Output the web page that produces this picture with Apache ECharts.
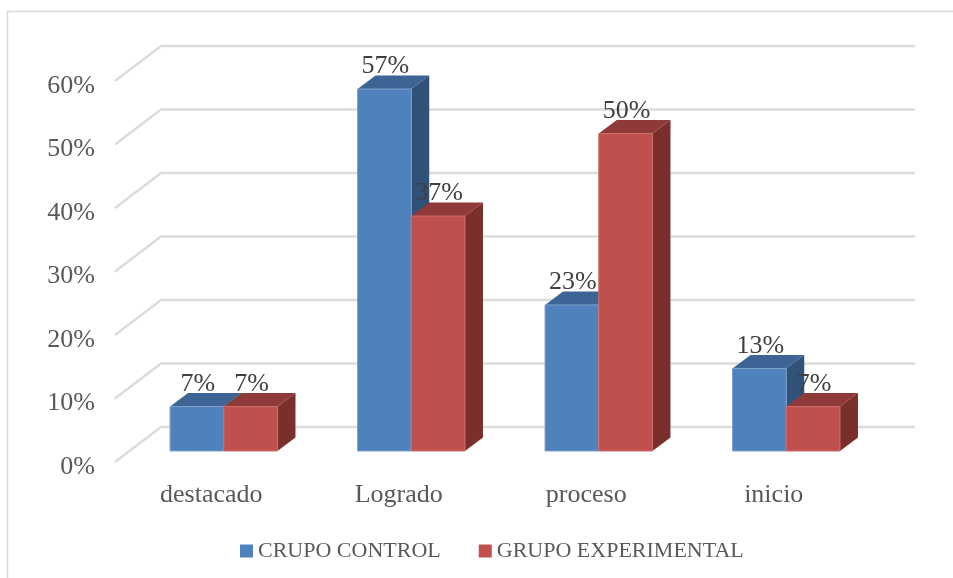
<!DOCTYPE html>
<html>
<head>
<meta charset="utf-8">
<script src="https://cdn.jsdelivr.net/npm/echarts@6/dist/echarts.min.js"></script>
<style>
  html, body { margin: 0; padding: 0; background: #fff; }
  #chart { width: 953px; height: 578px; }
</style>
</head>
<body>
<div id="chart"></div>
<script>
const categories = ["destacado", "Logrado", "proceso", "inicio"];
const control = [7, 57, 23, 13];
const experimental = [7, 37, 50, 7];
const yTicks = [0, 10, 20, 30, 40, 50, 60];

const FONT = "Liberation Serif";
const BAR_RATIO = 0.2865;
const SHIFT = [15, -11];   // bars stand a bit behind the axis plane
const DEPTH = [18, -13.5]; // bar depth
const WALL = [46, -35];    // back wall

const chart = echarts.init(document.getElementById("chart"));

function renderWall(params, api) {
  const p = api.coord([0, api.value(0)]);
  const cs = params.coordSys;
  const x0 = cs.x;
  return {
    type: "polyline",
    shape: {
      points: [
        [x0, p[1]],
        [x0 + WALL[0], p[1] + WALL[1]],
        [x0 + cs.width + 50, p[1] + WALL[1]],
      ],
    },
    style: { fill: null, stroke: "#dcdcdc", lineWidth: 2.5 },
  };
}

function barRenderer(dir, front, top, side, edge) {
  return function (params, api) {
    const v = api.value(1);
    const p = api.coord([api.value(0), v]);
    const base = api.coord([api.value(0), 0]);
    const w = api.size([1, 0])[0] * BAR_RATIO;
    const xl = p[0] + SHIFT[0] + dir * w;
    const xr = xl + w;
    const yt = p[1] + SHIFT[1];
    const yb = base[1] + SHIFT[1];
    const dx = DEPTH[0];
    const dy = DEPTH[1];
    return {
      type: "group",
      children: [
        {
          type: "polygon",
          shape: { points: [[xl, yt], [xl + dx, yt + dy], [xr + dx, yt + dy], [xr, yt]] },
          style: { fill: top },
        },
        {
          type: "polygon",
          shape: { points: [[xr, yt], [xr + dx, yt + dy], [xr + dx, yb + dy], [xr, yb]] },
          style: { fill: side },
        },
        {
          type: "rect",
          shape: { x: xl, y: yt, width: w, height: yb - yt },
          style: { fill: front, stroke: edge, lineWidth: 1 },
        },
        {
          type: "text",
          z2: 100,
          style: {
            text: v + "%",
            x: (xl + xr) / 2 + 1,
            y: yt + dy + 4,
            align: "center",
            verticalAlign: "bottom",
            fontFamily: FONT,
            fontSize: 26,
            fill: "#404040",
          },
        },
      ],
    };
  };
}

const option = {
  animation: false,
  backgroundColor: "#fff",
  graphic: [
    {
      type: "rect",
      shape: { x: 7.5, y: 11.5, width: 960, height: 580 },
      style: { fill: null, stroke: "#d9d9d9", lineWidth: 1.5 },
      silent: true,
    },
  ],
  grid: { left: 115, top: 81, width: 750, height: 381 },
  legend: {
    left: 235,
    top: 535,
    itemWidth: 13,
    itemHeight: 13,
    itemGap: 38,
    icon: "rect",
    textStyle: { fontFamily: FONT, fontSize: 22, color: "#595959" },
    data: ["CRUPO CONTROL", "GRUPO EXPERIMENTAL"],
  },
  xAxis: {
    type: "category",
    data: categories,
    axisLine: { show: false },
    axisTick: { show: false },
    splitLine: { show: false },
    axisLabel: { fontFamily: FONT, fontSize: 26, color: "#595959", margin: 20, padding: [0, 0, 0, 5] },
  },
  yAxis: {
    type: "value",
    min: 0,
    max: 60,
    interval: 10,
    axisLine: { show: false },
    axisTick: { show: false },
    splitLine: { show: false },
    axisLabel: {
      formatter: "{value}%",
      fontFamily: FONT,
      fontSize: 26,
      color: "#595959",
      margin: 20,
      verticalAlign: "top",
      lineHeight: 10,
    },
  },
  series: [
    {
      type: "custom",
      name: "wall",
      renderItem: renderWall,
      data: yTicks.map((t) => [t]),
      encode: { y: 0 },
      silent: true,
      z: 1,
    },
    {
      type: "custom",
      name: "CRUPO CONTROL",
      itemStyle: { color: "#4f81bd" },
      renderItem: barRenderer(-1, "#4f81bd", "#3c6595", "#305279", "#7fa3cf"),
      data: control.map((v, i) => [i, v]),
      encode: { x: 0, y: 1 },
      z: 2,
    },
    {
      type: "custom",
      name: "GRUPO EXPERIMENTAL",
      itemStyle: { color: "#c0504d" },
      renderItem: barRenderer(0, "#c0504d", "#8f3a38", "#7b2f2d", "#cc6f6c"),
      data: experimental.map((v, i) => [i, v]),
      encode: { x: 0, y: 1 },
      z: 3,
    },
  ],
};

chart.setOption(option);
</script>
</body>
</html>
